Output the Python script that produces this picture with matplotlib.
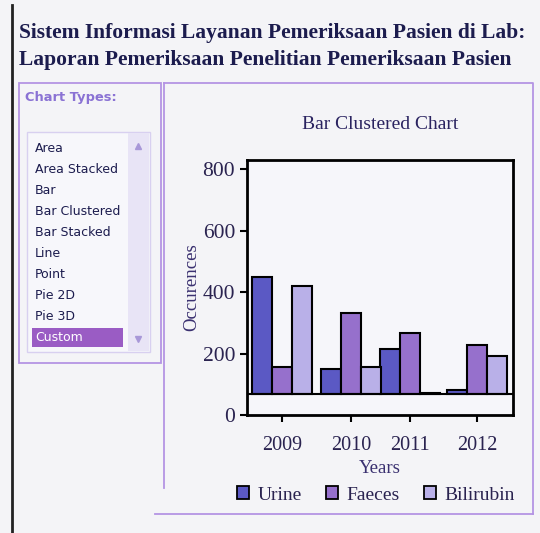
import numpy as np
import matplotlib
matplotlib.use("Agg")
import matplotlib.pyplot as plt
from matplotlib.patches import Rectangle, Patch

# data
years = ["2009", "2010", "2011", "2012"]
series = ["Urine", "Faeces", "Bilirubin"]
urine = [450, 150, 215, 80]
faeces = [155, 332, 268, 228]
bilirubin = [420, 155, 72, 193]
baseline = 68  # bars are drawn up from this line, not from 0
yticks = [0, 200, 400, 600, 800]

chart_types = ["Area", "Area Stacked", "Bar", "Bar Clustered", "Bar Stacked",
               "Line", "Point", "Pie 2D", "Pie 3D", "Custom"]
selected = "Custom"

colors = ["#5b59c4", "#9670cc", "#b9b0e8"]
navy = "#1c1c4e"
box_col = "#b494e4"
bg = "#f4f4f7"

W, H = 540, 533
fig = plt.figure(figsize=(W / 100, H / 100), dpi=100, facecolor=bg)

# page overlay in pixel coordinates
pg = fig.add_axes([0, 0, 1, 1])
pg.set_xlim(0, W)
pg.set_ylim(H, 0)
pg.axis("off")

pg.plot([12, 12], [5, H], color="#222222", lw=2)
pg.text(19, 33, "Sistem Informasi Layanan Pemeriksaan Pasien di Lab:",
        family="Liberation Serif", weight="bold", fontsize=15.5, color=navy, va="center")
pg.text(19, 60, "Laporan Pemeriksaan Penelitian Pemeriksaan Pasien",
        family="Liberation Serif", weight="bold", fontsize=15.5, color=navy, va="center")

# left panel with the chart type list
pg.add_patch(Rectangle((19, 83), 142, 280, fill=False, ec=box_col, lw=1.3))
pg.text(25, 98, "Chart Types:", family="DejaVu Sans", weight="bold",
        fontsize=9.4, color="#8a72d4", va="center")
pg.add_patch(Rectangle((27, 132), 123, 220, fc="#f7f7fb", ec="#d8d0f0", lw=1))
pg.add_patch(Rectangle((128, 133), 21, 218, fc="#e8e4f6", ec="none"))
pg.plot([138], [146], marker="^", ms=4, color="#a898d8")
pg.plot([138], [339], marker="v", ms=4, color="#a898d8")
for i, name in enumerate(chart_types):
    y = 148 + i * 21.1
    c = navy
    if name == selected:
        pg.add_patch(Rectangle((32, y - 10), 91, 19, fc="#9a5cc4", ec="none"))
        c = "white"
    pg.text(35, y, name, family="DejaVu Sans", fontsize=9.0, color=c, va="center")

# right panel frame (scan is slightly skewed)
pg.plot([164, 533, 533], [83, 83, 514], color=box_col, lw=1.3)
pg.plot([164, 164], [83, 488], color=box_col, lw=1.3)
pg.plot([155, 533], [514, 514], color=box_col, lw=1.3)

# chart
ax = fig.add_axes([247 / W, 1 - 415 / H, 266 / W, 255 / H])
ax.set_facecolor("#f6f6fa")
group_x = np.array([1.77, 5.24, 8.2, 11.59])
for k, vals in enumerate([urine, faeces, bilirubin]):
    ax.bar(group_x + (k - 1), np.array(vals) - baseline, width=1.0, bottom=baseline,
           color=colors[k], edgecolor="black", linewidth=1.5, zorder=3)
ax.axhline(baseline, color="black", lw=1.5, zorder=4)

ax.set_xlim(0, 13.4)
ax.set_ylim(0, 830)
ax.set_yticks(yticks)
ax.set_xticks(group_x)
ax.set_xticklabels(years)
for s in ax.spines.values():
    s.set_linewidth(2)
ax.tick_params(direction="out", length=5, width=1.5, colors="black",
               labelcolor="#2a2350")
for lab in ax.get_yticklabels():
    lab.set_family("Liberation Serif")
    lab.set_fontsize(15.5)
for lab in ax.get_xticklabels():
    lab.set_family("Liberation Serif")
    lab.set_fontsize(14.5)
ax.tick_params(axis="x", pad=10)

ax.set_title("Bar Clustered Chart", family="Liberation Serif", fontsize=14,
             color="#2a2360", pad=22)
ax.set_xlabel("Years", family="Liberation Serif", fontsize=13.5, color="#3a3070",
              labelpad=4)
ax.set_ylabel("Occurences", family="Liberation Serif", fontsize=13.5, color="#3a3070",
              labelpad=2)

handles = [Patch(fc=colors[k], ec="black", lw=1.3) for k in range(3)]
fig.legend(handles, series, loc="center", bbox_to_anchor=(376 / W, 1 - 495 / H),
           ncol=3, frameon=False, handlelength=0.6, handleheight=0.6,
           handletextpad=0.45, columnspacing=1.25,
           prop={"family": "Liberation Serif", "size": 14}, labelcolor="#2a2350")

fig.savefig("out.png", dpi=100, facecolor=bg)
